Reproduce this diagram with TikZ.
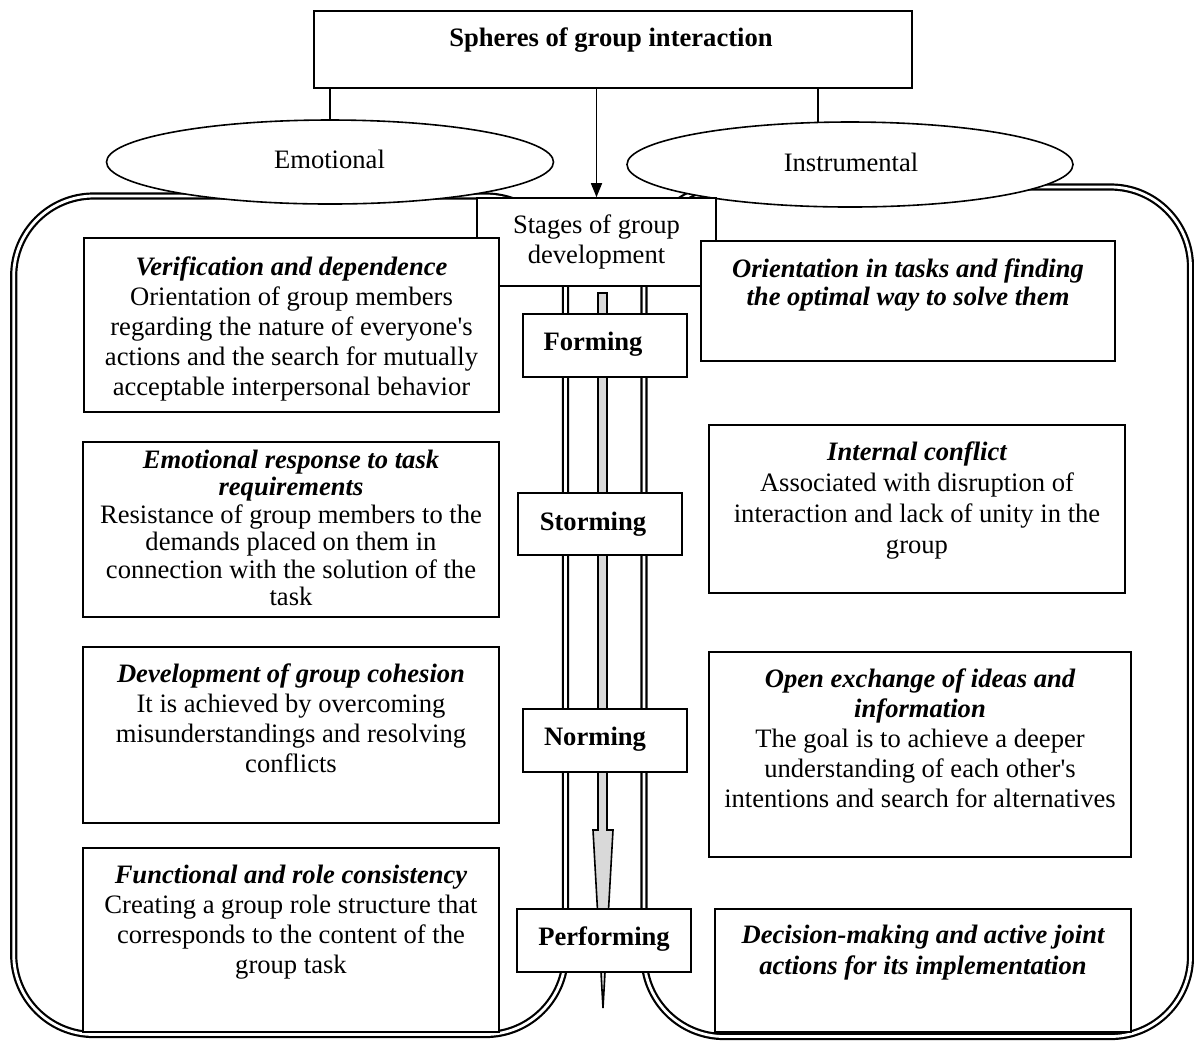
\documentclass[tikz,border=0pt]{standalone}
\usepackage{fontspec}
\setmainfont{Liberation Serif}
\usetikzlibrary{arrows.meta,shapes.geometric}
\definecolor{arrowgray}{RGB}{217,217,217}
\begin{document}
\begin{tikzpicture}[x=0.5pt,y=-0.5pt,
  every node/.style={font=\fontsize{13.3pt}{15pt}\selectfont},
  box/.style={draw, line width=1pt, fill=white, inner sep=0pt},
  ell/.style={draw, ellipse, line width=0.8pt, fill=white, inner sep=0pt},
  lbl/.style={anchor=base, align=center, inner sep=0pt},
  stg/.style={anchor=base, inner sep=0pt, font=\fontsize{13.3pt}{15pt}\selectfont\bfseries},
  frame/.style={draw, double=white, double distance=1.4pt, line width=1.1pt, rounded corners=40pt},
  conn/.style={line width=0.8pt}
]
\useasboundingbox (0,0) rectangle (1194,1041);

% double-lined frames
\draw[frame] (290,196) -- (13.7,196) -- (13.7,1034.5) -- (565.5,1034.5) -- (565.5,196) -- cycle;
\draw[frame] (900,187) -- (1190.5,187) -- (1190.5,1036.5) -- (644,1036.5) -- (644,187) -- cycle;

% grey development arrow
\draw[line width=0.8pt, fill=arrowgray] (598,293) -- (607,293) -- (607,830) -- (613,830) -- (603,1008) -- (593,830) -- (598,830) -- cycle;

% stage boxes
\node[box, minimum width=82pt, minimum height=31.5pt] (forming) at (605,345.5) {};
\node[stg] (formingl) at (593,350) {Forming};
\node[box, minimum width=82pt, minimum height=31pt] (storming) at (600,524) {};
\node[stg] (stormingl) at (593,530) {Storming};
\node[box, minimum width=82pt, minimum height=31.5pt] (norming) at (605,740.5) {};
\node[stg] (normingl) at (595,745) {Norming};
\node[box, minimum width=87pt, minimum height=31.5pt] (performing) at (604,940.5) {};
\node[stg] (performingl) at (604,945) {Performing};

% ellipses
\node[ell, minimum width=223.5pt, minimum height=42pt] (emo) at (330,162) {};
\node[lbl] (emol) at (329.5,168) {Emotional};
\node[ell, minimum width=223pt, minimum height=42.5pt] (ins) at (850,164.5) {};
\node[lbl] (insl) at (851,171) {Instrumental};

% stages box
\node[box, line width=0.8pt, minimum width=119.5pt, minimum height=44pt] (stages) at (596.5,242) {};
\node[lbl] (stagesl) at (596.5,263) {Stages of group\\development};

% left column boxes (labels anchored at the baseline of their last line)
\node[box, minimum width=207.5pt, minimum height=87pt] (verif) at (291.5,325) {};
\node[lbl] (verifl) at (291.5,395) {{\bfseries\itshape Verification and dependence}\\Orientation of group members\\regarding the nature of everyone\textquotesingle s\\actions and the search for mutually\\acceptable interpersonal behavior};

\node[box, minimum width=208pt, minimum height=87.5pt] (emoresp) at (291,529.5) {};
\node[lbl, font=\fontsize{13.3pt}{13.75pt}\selectfont] (emorespl) at (291,605.5) {{\bfseries\itshape Emotional response to task}\\{\bfseries\itshape requirements}\\Resistance of group members to the\\demands placed on them in\\connection with the solution of the\\task};

\node[box, minimum width=208pt, minimum height=88pt] (devel) at (291,735) {};
\node[lbl] (devell) at (291,772) {{\bfseries\itshape Development of group cohesion}\\It is achieved by overcoming\\misunderstandings and resolving\\conflicts};

\node[box, minimum width=208pt, minimum height=92pt] (funct) at (291,940) {};
\node[lbl] (functl) at (291,973) {{\bfseries\itshape Functional and role consistency}\\Creating a group role structure that\\corresponds to the content of the\\group task};

% right column boxes
\node[box, minimum width=207pt, minimum height=60pt] (orient) at (908,301) {};
\node[lbl, font=\fontsize{13.3pt}{14pt}\selectfont\bfseries\itshape] (orientl) at (908,305) {Orientation in tasks and finding\\the optimal way to solve them};

\node[box, minimum width=208pt, minimum height=84pt] (internal) at (917,509) {};
\node[lbl, font=\fontsize{13.3pt}{15.5pt}\selectfont] (internall) at (917,553) {{\bfseries\itshape Internal conflict}\\Associated with disruption of\\interaction and lack of unity in the\\group};

\node[box, minimum width=211pt, minimum height=102.5pt] (openex) at (920,754.5) {};
\node[lbl] (openexl) at (920,807) {{\bfseries\itshape Open exchange of ideas and}\\{\bfseries\itshape information}\\The goal is to achieve a deeper\\understanding of each other\textquotesingle s\\intentions and search for alternatives};

\node[box, minimum width=208pt, minimum height=61.5pt] (decision) at (923,970.5) {};
\node[lbl, font=\fontsize{13.3pt}{15.5pt}\selectfont\bfseries\itshape] (decisionl) at (923,974) {Decision-making and active joint\\actions for its implementation};

% top box
\node[box, minimum width=299pt, minimum height=38.5pt] (top) at (613,49.5) {};
\node[lbl, font=\fontsize{13.3pt}{15pt}\selectfont\bfseries] (topl) at (611,46) {Spheres of group interaction};

% connectors
\draw[conn] (top.south -| emo.north) -- (emo.north);
\draw[conn] (ins.127.2 |- top.south) -- (ins.127.2);
\draw[conn, -{Triangle[width=5.5pt,length=7pt]}] (top.south -| stages.north) -- (stages.north);
\end{tikzpicture}
\end{document}
